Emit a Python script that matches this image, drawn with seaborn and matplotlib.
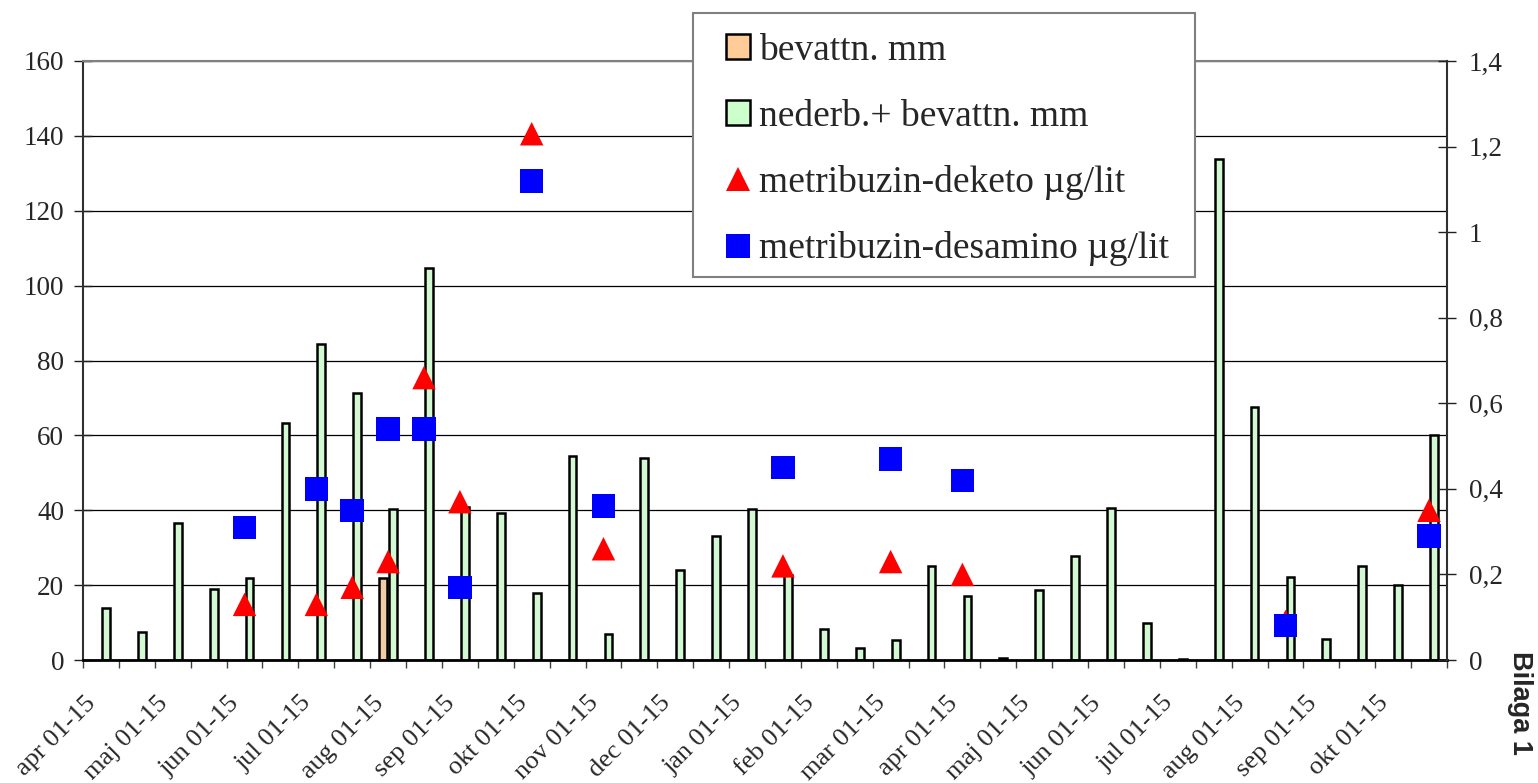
import matplotlib

matplotlib.use("Agg")
import matplotlib.pyplot as plt
import numpy as np
import pandas as pd
import seaborn as sns
from matplotlib.lines import Line2D
from matplotlib.patches import Patch, Rectangle
from matplotlib.ticker import FixedLocator, FuncFormatter, MultipleLocator
from matplotlib.transforms import ScaledTranslation

# ── Data ────────────────────────────────────────────────
perioder = [
    "apr 01-15", "apr 16-30", "maj 01-15", "maj 16-31", "jun 01-15",
    "jun 16-30", "jul 01-15", "jul 16-31", "aug 01-15", "aug 16-31",
    "sep 01-15", "sep 16-30", "okt 01-15", "okt 16-31", "nov 01-15",
    "nov 16-30", "dec 01-15", "dec 16-31", "jan 01-15", "jan 16-31",
    "feb 01-15", "feb 16-28", "mar 01-15", "mar 16-31", "apr 01-15",
    "apr 16-30", "maj 01-15", "maj 16-31", "jun 01-15", "jun 16-30",
    "jul 01-15", "jul 16-31", "aug 01-15", "aug 16-31", "sep 01-15",
    "sep 16-30", "okt 01-15", "okt 16-31",
]

# bevattning (mm), endast en period
bevattn = [
    None, None, None, None, None, None, None, None, 22, None,
    None, None, None, None, None, None, None, None, None, None,
    None, None, None, None, None, None, None, None, None, None,
    None, None, None, None, None, None, None, None,
]

# nederbörd + bevattning (mm)
nederb_bevattn = [
    14, 7.5, 36.5, 19, 22, 63.3, 84.4, 71.3, 40.4, 104.8,
    40.8, 39.3, 18, 54.6, 7, 53.9, 24, 33.2, 40.3, 22.7,
    8.3, 3.2, 5.3, 25, 17.2, 0.5, 18.7, 27.7, 40.6, 9.9,
    0.3, 133.9, 67.5, 22.3, 5.6, 25.1, 20.1, 60.1,
]

# halter (µg/lit), höger axel
deketo = [
    None, None, None, None, 0.13, None, 0.13, 0.17, 0.23, 0.66,
    0.37, None, 1.23, None, 0.26, None, None, None, None, 0.22,
    None, None, 0.23, None, 0.20, None, None, None, None, None,
    None, None, None, 0.09, None, None, None, 0.35,
]
desamino = [
    None, None, None, None, 0.31, None, 0.40, 0.35, 0.54, 0.54,
    0.17, None, 1.12, None, 0.36, None, None, None, None, 0.45,
    None, None, 0.47, None, 0.42, None, None, None, None, None,
    None, None, None, 0.08, None, None, None, 0.29,
]

LBL_BEV = "bevattn. mm"
LBL_NED = "nederb.+ bevattn. mm"
LBL_DEK = "metribuzin-deketo µg/lit"
LBL_DES = "metribuzin-desamino µg/lit"

C_BEV = "#FFCC99"
C_NED = "#CCFFCC"
C_DEK = "#FF0000"
C_DES = "#0000FF"

pos = np.arange(len(perioder))

df_bar = pd.DataFrame({
    "pos": np.concatenate([pos, pos]),
    "serie": [LBL_BEV] * len(pos) + [LBL_NED] * len(pos),
    "mm": pd.to_numeric(pd.Series(bevattn + nederb_bevattn), errors="coerce"),
})

df_pts = pd.DataFrame({
    "pos": np.concatenate([pos, pos]),
    "serie": [LBL_DEK] * len(pos) + [LBL_DES] * len(pos),
    "halt": pd.to_numeric(pd.Series(deketo + desamino), errors="coerce"),
}).dropna()

# ── Figur ───────────────────────────────────────────────
sns.set_style("white")
plt.rcParams["font.family"] = ["Liberation Serif", "DejaVu Serif"]

W, H = 1538, 783
fig = plt.figure(figsize=(W / 100, H / 100), dpi=100)
ax = fig.add_axes([83 / W, 1 - 660 / H, (1447 - 83) / W, (660 - 61) / H])

sns.barplot(
    data=df_bar, x="pos", y="mm", hue="serie",
    hue_order=[LBL_BEV, LBL_NED],
    palette={LBL_BEV: C_BEV, LBL_NED: C_NED},
    width=0.556, gap=0.22, edgecolor="black", linewidth=1.8,
    errorbar=None, legend=False, ax=ax,
)

ax2 = ax.twinx()
sns.scatterplot(
    data=df_pts, x="pos", y="halt", hue="serie", style="serie",
    hue_order=[LBL_DEK, LBL_DES],
    palette={LBL_DEK: C_DEK, LBL_DES: C_DES},
    markers={LBL_DEK: "^", LBL_DES: "s"},
    s=285, edgecolor="none", linewidth=0, legend=False, ax=ax2,
)

# ── Axlar ───────────────────────────────────────────────
ax.set_xlim(-0.5, len(perioder) - 0.5)
ax.set_ylim(0, 160)
ax.yaxis.set_major_locator(MultipleLocator(20))
ax.set_xlabel("")
ax.set_ylabel("")
ax2.set_ylim(0, 1.4)
ax2.yaxis.set_major_locator(MultipleLocator(0.2))
ax2.yaxis.set_major_formatter(
    FuncFormatter(lambda v, _: f"{v:.1f}".rstrip("0").rstrip(".").replace(".", ","))
)
ax2.set_ylabel("")

ax.set_xticks(pos[::2])
ax.set_xticklabels(perioder[::2], rotation=45, ha="right", va="top",
                   rotation_mode="anchor", fontsize=19)
ax.xaxis.set_minor_locator(FixedLocator(np.arange(-0.5, len(perioder), 1)))
ax.tick_params(axis="x", which="major", length=0, pad=23)
ax.tick_params(axis="x", which="minor", direction="out", length=6,
               width=1, color="#404040", bottom=True)
shift = ScaledTranslation(-16 / 100, 0, fig.dpi_scale_trans)
for lab in ax.get_xticklabels():
    lab.set_transform(lab.get_transform() + shift)

ax.tick_params(axis="y", direction="inout", length=13, width=1,
               color="#202020", labelsize=19.5, pad=7, left=True)
ax2.tick_params(axis="y", direction="inout", length=13, width=1,
                color="#202020", labelsize=19.5, pad=9, right=True)

ax.yaxis.grid(True, color="black", linewidth=0.9)
ax.set_axisbelow(True)

for side in ["left", "bottom", "top", "right"]:
    ax2.spines[side].set_visible(side == "right")
ax2.spines["right"].set_color("#303030")
ax2.spines["right"].set_linewidth(1.5)
ax.spines["right"].set_visible(False)
ax.spines["left"].set_color("#303030")
ax.spines["left"].set_linewidth(1.5)
ax.spines["top"].set_color("#808080")
ax.spines["top"].set_linewidth(1.5)
ax.spines["bottom"].set_color("black")
ax.spines["bottom"].set_linewidth(2)

# ── Legend (egen ram) ───────────────────────────────────
ram = Rectangle((693 / W, 1 - 277 / H), (1195 - 693) / W, (277 - 13) / H,
                transform=fig.transFigure, facecolor="white",
                edgecolor="#808080", linewidth=1.5, clip_on=False, zorder=10)
ax2.add_artist(ram)

handles = [
    Patch(facecolor=C_BEV, edgecolor="black", linewidth=1.8),
    Patch(facecolor=C_NED, edgecolor="black", linewidth=1.8),
    Line2D([], [], marker="^", color=C_DEK, linestyle="", markersize=16.8,
           markeredgewidth=0),
    Line2D([], [], marker="s", color=C_DES, linestyle="", markersize=16.8,
           markeredgewidth=0),
]
leg = ax2.legend(
    handles, [LBL_BEV, LBL_NED, LBL_DEK, LBL_DES],
    loc="upper left", bbox_to_anchor=(726 / W, 1 - 33 / H),
    bbox_transform=fig.transFigure, borderaxespad=0, frameon=False,
    fontsize=27, handlelength=0.64, handleheight=0.64, handletextpad=0.25,
    labelspacing=0.84, borderpad=0,
)
leg.set_zorder(11)

fig.text(1520 / W, 1 - 703 / H, "Bilaga 1", rotation=270, ha="center",
         va="center", fontsize=19.5, fontweight="bold",
         family=["Liberation Sans", "DejaVu Sans"])

fig.savefig("out.png", dpi=100)
